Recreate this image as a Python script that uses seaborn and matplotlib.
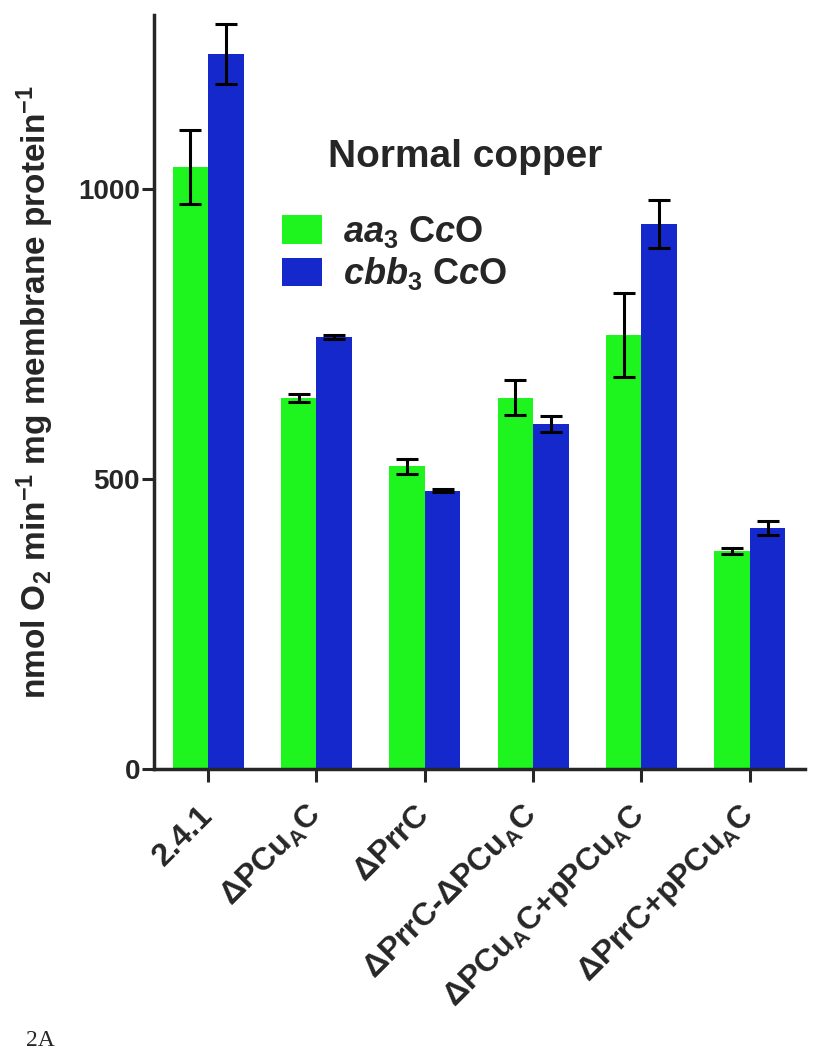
import matplotlib
matplotlib.use("Agg")
import matplotlib.pyplot as plt
from matplotlib.patches import Patch
import pandas as pd
import seaborn as sns

strains = ["2.4.1", "dPCuAC", "dPrrC", "dPrrC-dPCuAC", "dPCuAC+pPCuAC", "dPrrC+pPCuAC"]
strain_labels = [
    "2.4.1",
    r"$\Delta$PCu$_\mathrm{A}$C",
    r"$\Delta$PrrC",
    r"$\Delta$PrrC-$\Delta$PCu$_\mathrm{A}$C",
    r"$\Delta$PCu$_\mathrm{A}$C+pPCu$_\mathrm{A}$C",
    r"$\Delta$PrrC+pPCu$_\mathrm{A}$C",
]
aa3_mean = [1038, 640, 522, 640, 748, 376]
aa3_err = [64, 7, 13, 30, 72, 5]
cbb3_mean = [1233, 745, 480, 595, 940, 415]
cbb3_err = [52, 3, 2, 14, 41, 12]
oxidases = ["aa3", "cbb3"]
legend_labels = [r"$\mathit{aa}_\mathrm{3}$ C$\mathit{c}$O", r"$\mathit{cbb}_\mathrm{3}$ C$\mathit{c}$O"]
colors = ["#1ef41e", "#1428cc"]

df = pd.DataFrame({
    "strain": strains * 2,
    "oxidase": ["aa3"] * len(strains) + ["cbb3"] * len(strains),
    "rate": aa3_mean + cbb3_mean,
})
errs = {"aa3": aa3_err, "cbb3": cbb3_err}

sns.set_style("ticks")
plt.rcParams["font.family"] = ["Liberation Sans", "DejaVu Sans"]
plt.rcParams["font.weight"] = "bold"
plt.rcParams["mathtext.fontset"] = "custom"
plt.rcParams["mathtext.rm"] = "Liberation Sans:bold"
plt.rcParams["mathtext.it"] = "Liberation Sans:bold:italic"
plt.rcParams["mathtext.bf"] = "Liberation Sans:bold"
plt.rcParams["mathtext.default"] = "rm"

fig = plt.figure(figsize=(8.19, 10.5), dpi=100)
ax = fig.add_axes([154 / 819, 1 - 769 / 1050, 651 / 819, 754 / 1050])

sns.barplot(data=df, x="strain", y="rate", hue="oxidase", order=strains, hue_order=oxidases,
            palette=colors, width=0.656, saturation=1, errorbar=None, legend=False,
            linewidth=0, ax=ax)

# error bars drawn on the seaborn bar centres
for cont, ox in zip(ax.containers, oxidases):
    for bar, e in zip(cont, errs[ox]):
        xc = bar.get_x() + bar.get_width() / 2
        ax.errorbar(xc, bar.get_height(), yerr=e, fmt="none", ecolor="black",
                    elinewidth=2.2, capsize=8, capthick=2.2, zorder=5)

ax.set_xlim(-0.5, 5.51)
ax.set_ylim(0, 1300)
ax.set_yticks([0, 500, 1000])
ax.set_xticks(range(len(strains)))
ax.set_xticklabels(strain_labels, rotation=45, ha="right", va="center", rotation_mode="anchor")
ax.tick_params(axis="both", width=2.2, length=9)
ax.tick_params(axis="y", labelsize=20, pad=1)
ax.tick_params(axis="x", labelsize=23, pad=21)
ax.set_xlabel("")
ax.set_ylabel(r"nmol O$_2$ min$^{-1}$ mg membrane protein$^{-1}$", fontsize=24, fontweight="bold")
ax.yaxis.set_label_coords(-0.15, 0.5)
for s in ["left", "bottom"]:
    ax.spines[s].set_linewidth(2.5)
sns.despine(ax=ax)

handles = [Patch(facecolor=c, edgecolor="none") for c in colors]
ax.legend(handles, legend_labels, loc="upper left", bbox_to_anchor=(282 / 819, 1 - 214 / 1050),
          bbox_transform=fig.transFigure, frameon=False, fontsize=26, borderpad=0, borderaxespad=0,
          handlelength=1.1, handleheight=0.85, handletextpad=0.6, labelspacing=0.15)
fig.text(328 / 819, 1 - 167 / 1050, "Normal copper", fontsize=28, fontweight="bold", va="baseline")
fig.text(26 / 819, 1 - 1040 / 1050, "2A", fontsize=17, family=["Liberation Serif", "DejaVu Serif"],
         fontweight="normal", va="center")

fig.savefig("out.png", dpi=100)
